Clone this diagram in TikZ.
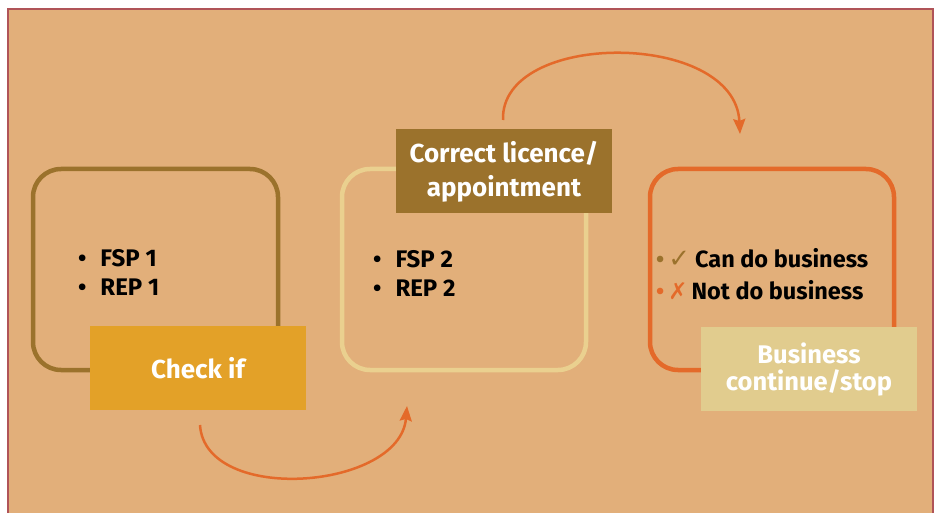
\documentclass[tikz,border=0pt]{standalone}
\usepackage{fontspec}
\setmainfont{Fira Sans}
\newfontfamily\symfont{DejaVu Sans}
\usetikzlibrary{arrows.meta}
\definecolor{panel}{HTML}{E2AF7A}
\definecolor{frameline}{HTML}{B05458}
\definecolor{brown}{HTML}{9B722C}
\definecolor{gold}{HTML}{E3A128}
\definecolor{pale}{HTML}{EAD08F}
\definecolor{paletag}{HTML}{E1CC8E}
\definecolor{flame}{HTML}{E46A2A}
\tikzset{
  stepframe/.style = {draw, line width=4.5pt, rounded corners=28pt},% box of one step
  tagbox/.style = {rectangle, inner sep=0pt, minimum width=216pt,
    minimum height=84pt, align=center, text=white,
    font=\fontsize{26}{34}\selectfont\bfseries},% label box
  itemlist/.style = {anchor=west, align=left, inner sep=0pt,
    font=\fontsize{24}{29}\selectfont\bfseries},% bullet list
  flow/.style = {draw=flame, line width=2.5pt,
    -{Stealth[length=15pt,width=12pt,inset=2pt]}}% curved arrow
}
\begin{document}
\begin{tikzpicture}[x=1pt, y=-1pt]
  \useasboundingbox (0,0) rectangle (937,513);
  \fill[white] (0,0) rectangle (937,513);
  \filldraw[fill=panel, draw=frameline, line width=2pt] (8,9) rectangle (933,530);

  % steps
  \draw[stepframe, brown] (33,169) rectangle (278,370);
  \draw[stepframe, pale] (342,169) rectangle (586,370);
  \draw[stepframe, flame] (650,169) rectangle (894,370);

  % labels
  \node[tagbox, fill=gold, font=\fontsize{26}{29}\selectfont\bfseries]
    (check) at (198,368) {Check if};
  \node[tagbox, fill=brown] (licence) at (504,171.5) {Correct licence/\\appointment};
  \node[tagbox, fill=paletag, font=\fontsize{25.5}{27}\selectfont\bfseries]
    (result) at (809,369) {Business\\continue/stop};

  % lists
  \node[itemlist] (list1) at (78,272) {\textbullet\hspace{14pt}FSP 1\\\textbullet\hspace{14pt}REP 1};
  \node[itemlist] (list2) at (373,273.5) {\textbullet\hspace{14pt}FSP 2\\\textbullet\hspace{14pt}REP 2};
  \node[itemlist, font=\fontsize{23.5}{32}\selectfont\bfseries] (list3) at (656,274)
    {{\color{brown}\textbullet\hspace{4pt}{\symfont\fontsize{26}{32}\selectfont ✓}}\hspace{5pt}Can do business\\
     {\color{flame}\textbullet\hspace{4pt}{\symfont\fontsize{23}{32}\selectfont ✗}}\hspace{4pt}Not do business};

  % arrows
  \coordinate (c1) at (200,425);
  \coordinate (c2) at (407,406);
  \coordinate (c3) at (503,120);
  \coordinate (c4) at (740,134);
  \draw[flow] (c1) .. controls (205,505) and (400,490) .. (c2);
  \draw[flow] (c3) .. controls (500,30) and (735,30) .. (c4);
\end{tikzpicture}
\end{document}
